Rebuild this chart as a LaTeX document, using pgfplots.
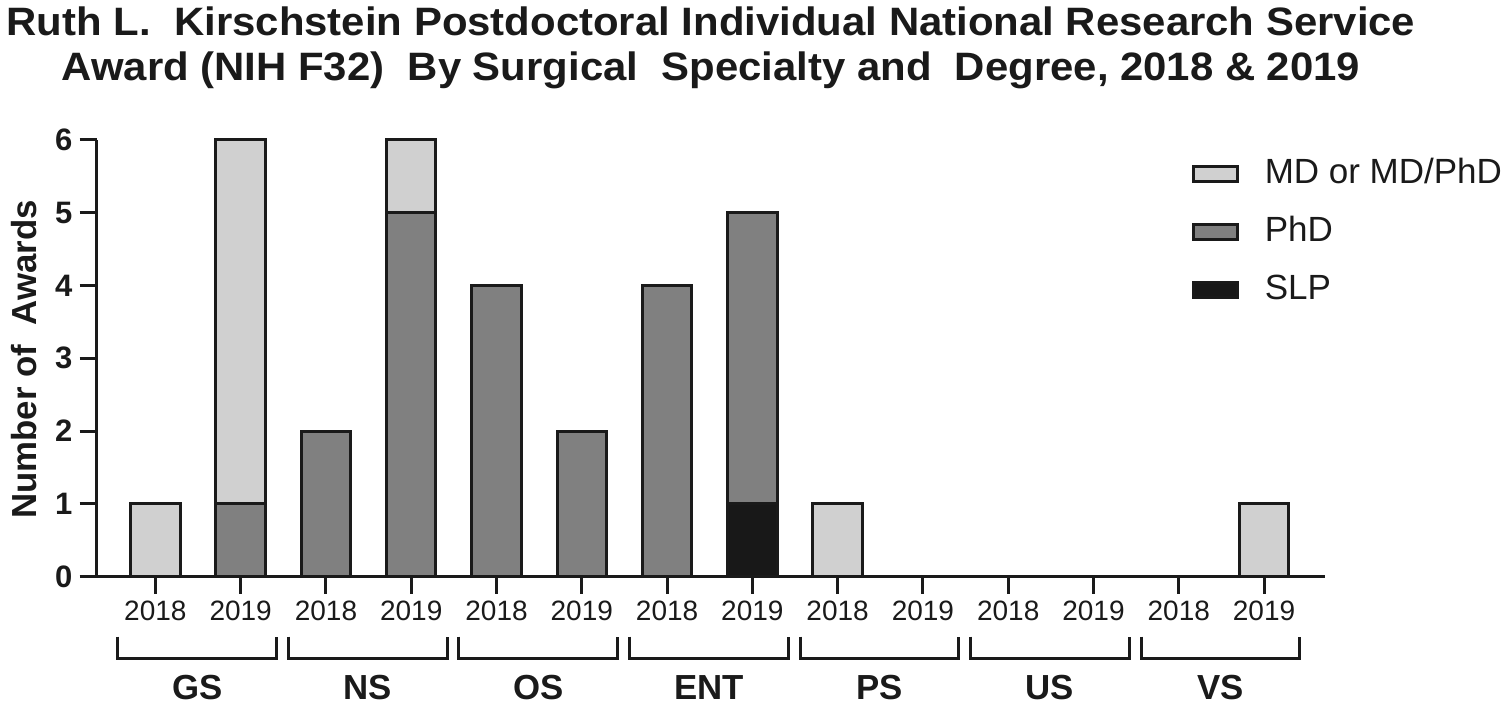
\documentclass[border=0pt]{standalone}
\usepackage{pgfplots}
\pgfplotsset{compat=1.18}
\usepackage{fontspec}
\setmainfont{Liberation Sans}
\newfontfamily\titlefont{Liberation Sans}[FakeStretch=1.058]
\definecolor{mdc}{HTML}{D0D0D0}
\definecolor{phdc}{HTML}{808080}
\definecolor{slpc}{HTML}{181818}
\definecolor{ink}{HTML}{1A1A1A}
\tikzset{grp/.style={font=\bfseries\fontsize{17.4}{20}\selectfont, text=ink},
         brk/.style={ink, line width=1.5pt}}

% positions 0..13: GS18, GS19, NS18, NS19, OS18, OS19, ENT18, ENT19, PS18, PS19, US18, US19, VS18, VS19
\pgfplotstableread{
x slp phd md
0  0 0 1
1  0 1 5
2  0 2 0
3  0 5 1
4  0 4 0
5  0 2 0
6  0 4 0
7  1 4 0
8  0 0 1
9  0 0 0
10 0 0 0
11 0 0 0
12 0 0 0
13 0 0 1
}\awards

\begin{document}
\begin{tikzpicture}
\begin{axis}[
  scale only axis,
  width=614.4pt, height=218.3pt,
  xmin=-0.69, xmax=13.72, ymin=0, ymax=6,
  ybar stacked, bar width=0.58,
  axis lines*=left,
  axis line style={ink, line width=1.5pt},
  clip=false,
  xtick={0,...,13},
  xticklabels={2018,2019,2018,2019,2018,2019,2018,2019,2018,2019,2018,2019,2018,2019},
  ytick={0,...,6},
  tick style={ink, line width=1.5pt},
  major tick length=8.5pt,
  tick align=outside,
  /pgf/number format/assume math mode=true,
  xticklabel style={font=\fontsize{14}{16}\selectfont, text=ink},
  yticklabel style={font=\bfseries\fontsize{15.5}{18}\selectfont, text=ink},
  ylabel={Number of\ \ Awards},
  ylabel style={font=\bfseries\fontsize{17.4}{20}\selectfont, text=ink,
    at={(axis description cs:-0.0586,0.497)}, anchor=center},
  title={Ruth L.\ \ Kirschstein Postdoctoral Individual National Research Service\\
         Award (NIH F32)\ \ By Surgical\ \ Specialty and\ \ Degree, 2018 \& 2019},
  title style={font=\titlefont\bfseries\fontsize{19.8}{22.5}\selectfont, text=ink, align=center,
    at={(axis description cs:0.5,1.294)}, anchor=north},
  legend image code/.code={\draw[#1] (0pt,-3.75pt) rectangle (22pt,3.75pt);},
  reverse legend,
  legend cell align=left,
  legend style={draw=none, fill=none, at={(axis description cs:0.886,0.97)},
    anchor=north west, font=\fontsize{17.5}{21}\selectfont, text=ink,
    nodes={inner sep=0pt, text height=13pt, text depth=4pt},
    row sep=12pt,
    /tikz/every odd column/.append style={column sep=13pt}},
]
\addplot[fill=slpc, draw=ink, line width=1.5pt] table[x=x, y=slp] {\awards};
\addplot[fill=phdc, draw=ink, line width=1.5pt] table[x=x, y=phd] {\awards};
\addplot[fill=mdc, draw=ink, line width=1.5pt] table[x=x, y=md] {\awards};
\legend{SLP, PhD, MD or MD/PhD}

\draw[brk] (axis cs:-0.44,-0.824) |- (axis cs:1.42,-1.126) -- (axis cs:1.42,-0.824);
\draw[brk] (axis cs:1.56,-0.824) |- (axis cs:3.42,-1.126) -- (axis cs:3.42,-0.824);
\draw[brk] (axis cs:3.56,-0.824) |- (axis cs:5.42,-1.126) -- (axis cs:5.42,-0.824);
\draw[brk] (axis cs:5.56,-0.824) |- (axis cs:7.42,-1.126) -- (axis cs:7.42,-0.824);
\draw[brk] (axis cs:7.56,-0.824) |- (axis cs:9.42,-1.126) -- (axis cs:9.42,-0.824);
\draw[brk] (axis cs:9.56,-0.824) |- (axis cs:11.42,-1.126) -- (axis cs:11.42,-0.824);
\draw[brk] (axis cs:11.56,-0.824) |- (axis cs:13.42,-1.126) -- (axis cs:13.42,-0.824);
\node[grp] at (axis cs:0.49,-1.518) {GS};
\node[grp] at (axis cs:2.49,-1.518) {NS};
\node[grp] at (axis cs:4.49,-1.518) {OS};
\node[grp] at (axis cs:6.49,-1.518) {ENT};
\node[grp] at (axis cs:8.49,-1.518) {PS};
\node[grp] at (axis cs:10.49,-1.518) {US};
\node[grp] at (axis cs:12.49,-1.518) {VS};
\end{axis}
\end{tikzpicture}
\end{document}
